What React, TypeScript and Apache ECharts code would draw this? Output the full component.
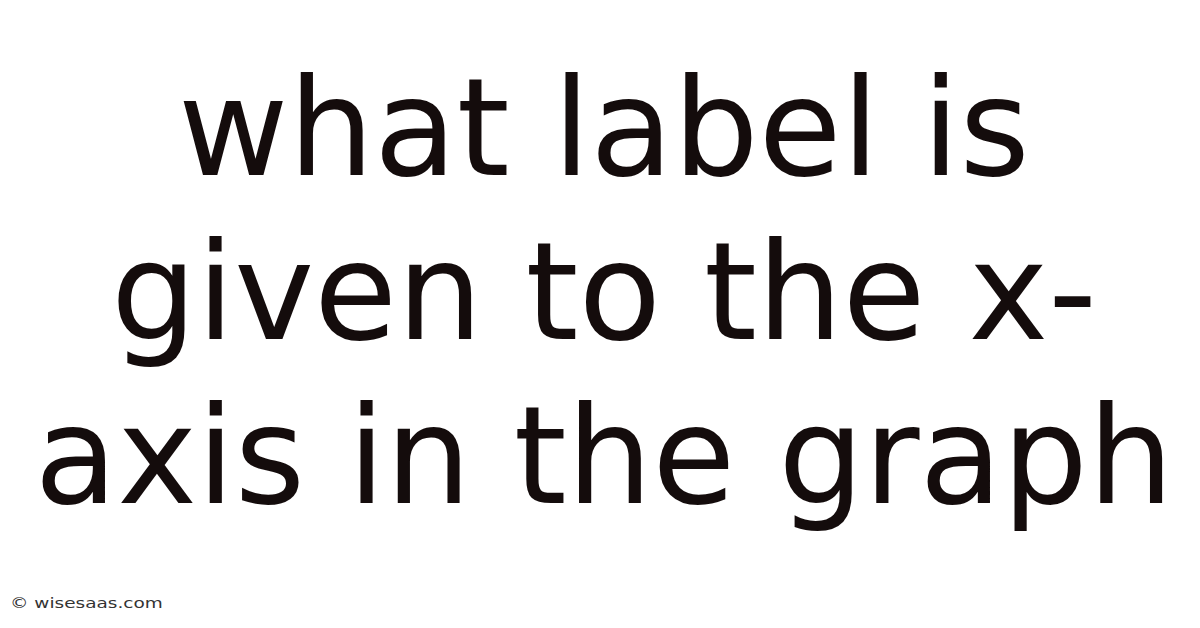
import React, { useEffect, useRef } from 'react'
import * as echarts from 'echarts'

const titleLines = ['what label is', 'given to the x-', 'axis in the graph']
const watermark = '© wisesaas.com'

const App = () => {
  const chartRef = useRef<HTMLDivElement>(null)

  useEffect(() => {
    if (!chartRef.current) return
    const chart = echarts.init(chartRef.current, undefined, { renderer: 'svg' })

    const option = {
      animation: false,
      backgroundColor: '#ffffff',
      graphic: [
        ...titleLines.map((line, i) => ({
          type: 'text',
          x: 604,
          y: 128 + i * 164,
          style: {
            text: line,
            fontFamily: 'DejaVu Sans',
            fontSize: 135,
            fill: '#140c0c',
            align: 'center',
            verticalAlign: 'middle',
          },
        })),
        {
          // watermark, drawn a bit wider like the original
          type: 'text',
          x: 10,
          y: 603,
          scaleX: 1.32,
          style: {
            text: watermark,
            fontFamily: 'DejaVu Sans',
            fontSize: 14,
            fill: '#333333',
            align: 'left',
            verticalAlign: 'middle',
          },
        },
      ],
    }

    chart.setOption(option)
    return () => {
      chart.dispose()
    }
  }, [])

  return (
    <div style={{ position: 'fixed', left: 0, top: 0, width: 1200, height: 628 }}>
      <div ref={chartRef} style={{ width: '100%', height: '100%' }} />
    </div>
  )
}

export default App
